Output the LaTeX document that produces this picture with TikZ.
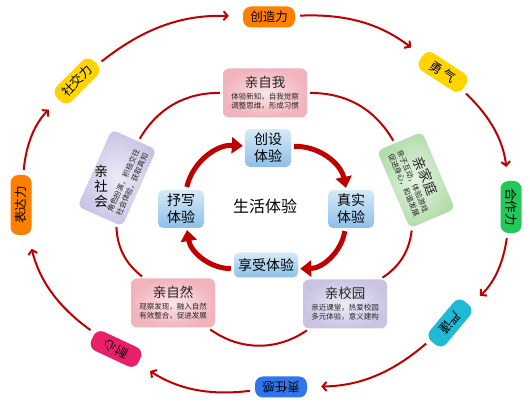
\documentclass[tikz,border=0pt]{standalone}
\usepackage{fontspec}
\setmainfont{Noto Sans CJK SC}
\usetikzlibrary{arrows.meta, positioning, calc}
\definecolor{cred}{HTML}{C00000}
\definecolor{corange}{HTML}{FF7F00}
\definecolor{cyellow}{HTML}{FFD400}
\definecolor{cgreen}{HTML}{20C958}
\definecolor{ccyan}{HTML}{1EBAD6}
\definecolor{cblue}{HTML}{3075EC}
\definecolor{cpink}{HTML}{E8206A}
\definecolor{cpinkin}{HTML}{FBE4E7}
\definecolor{cpinkout}{HTML}{F1B3BC}
\definecolor{cpurplein}{HTML}{EDEAF6}
\definecolor{cpurpleout}{HTML}{CBC3E4}
\definecolor{cgreenin}{HTML}{E4F3E0}
\definecolor{cgreenout}{HTML}{B2DCAB}
\definecolor{cbluetop}{HTML}{D6EAF8}
\definecolor{cbluebot}{HTML}{8CBFE8}
\newcommand{\bigtxt}{\fontsize{13.5}{15}\selectfont}
\newcommand{\smalltxt}{\fontsize{7.5}{9.5}\selectfont}
\tikzset{
  every picture/.style={x=1pt, y=1pt},
  tag/.style={fill=#1, rounded corners=8pt, minimum width=52pt, minimum height=21pt, inner sep=2pt, font=\fontsize{12.5}{14}\selectfont},
  card/.style={inner color=c#1in, outer color=c#1out, rounded corners=6pt, minimum width=84pt, minimum height=49pt, inner sep=2pt, align=center, text=black!85, font=\smalltxt},
  ibox/.style={top color=cbluetop, bottom color=cbluebot, rounded corners=5pt, inner sep=4pt, minimum width=46pt, align=center, font=\fontsize{14}{17}\selectfont},
  ring/.style={-{Straight Barb[length=4pt, width=9pt]}, draw=cred, line width=2pt, shorten <=5pt, shorten >=14pt},
  link/.style={draw=cred, line width=2pt, shorten <=3pt, shorten >=3pt},
  flow/.style={-{Triangle[length=11pt, width=16pt]}, draw=cred, line width=5pt, shorten <=3pt, shorten >=2pt},
}
\begin{document}
\begin{tikzpicture}
  \path[fill=white] (0,0) rectangle (530,409);
  \useasboundingbox (0,0) rectangle (530,409);
  % outer ring of qualities
  \node[tag=corange] (ocz) at (269,392) {创造力};
  \node[tag=cyellow, rotate=-33] (oyq) at (443,337) {勇 气};
  \node[tag=cgreen, rotate=-90] (ohz) at (511,202) {合作力};
  \node[tag=ccyan, rotate=-130] (oyj) at (450,86) {严谨};
  \node[tag=cblue, rotate=180] (ozr) at (281,22) {责任感};
  \node[tag=cpink, rotate=155] (onx) at (116,60) {耐心};
  \node[tag=corange, rotate=90, minimum width=60pt] (obd) at (21,204) {表达力};
  \node[tag=cyellow, rotate=45] (osj) at (77,328) {社交力};
  \foreach \u/\v in {osj/ocz, ocz/oyq, oyq/ohz, ohz/oyj, oyj/ozr, ozr/onx, onx/obd, obd/osj}
    \draw[ring] (\u) to[bend left=20] (\v);
  % middle ring of cards
  \node[card=pink] (qzw) at (265,316) {\bigtxt 亲自我\\[2pt]体验新知，自我觉察\\调整思维，形成习惯};
  \node[card=green, rotate=-67] (qjt) at (416,229) {\bigtxt 亲家庭\\[2pt]亲子互动，体验游戏\\促进身心，和谐发展};
  \node[card=purple] (qxy) at (345,105) {\bigtxt 亲校园\\[2pt]亲近课堂，热爱校园\\多元体验，意义建构};
  \node[card=pink] (qzr) at (173,106) {\bigtxt 亲自然\\[2pt]观察发现，融入自然\\有效整合，促进发展};
  \node[card=purple, rotate=66] (qsh) at (117,231) {\bigtxt\phantom{亲}\\[9pt]角色扮演，积极交往\\社会体验，获取真知};
  \node[font=\bigtxt, align=center, inner sep=0pt] (qshname) at (101,223) {亲\\社\\会};
  \foreach \u/\v/\b in {qzw/qjt/30, qjt/qxy/25, qxy/qzr/35, qzr/qsh/25, qsh/qzw/30}
    \draw[link] (\u) to[bend left=\b] (\v);
  % inner cycle
  \node[font=\fontsize{16}{18}\selectfont] (life) at (265,203) {生活体验};
  \node[ibox] (tcs) at (268,261) {创设\\体验};
  \node[ibox] (tzs) at (351,200) {真实\\体验};
  \node[ibox, minimum height=25pt] (txs) at (266,144) {享受体验};
  \node[ibox] (tsx) at (181,200) {抒写\\体验};
  \foreach \u/\v in {tcs/tzs, tzs/txs, txs/tsx, tsx/tcs}
    \draw[flow] (\u) to[bend left=40] (\v);
\end{tikzpicture}
\end{document}
